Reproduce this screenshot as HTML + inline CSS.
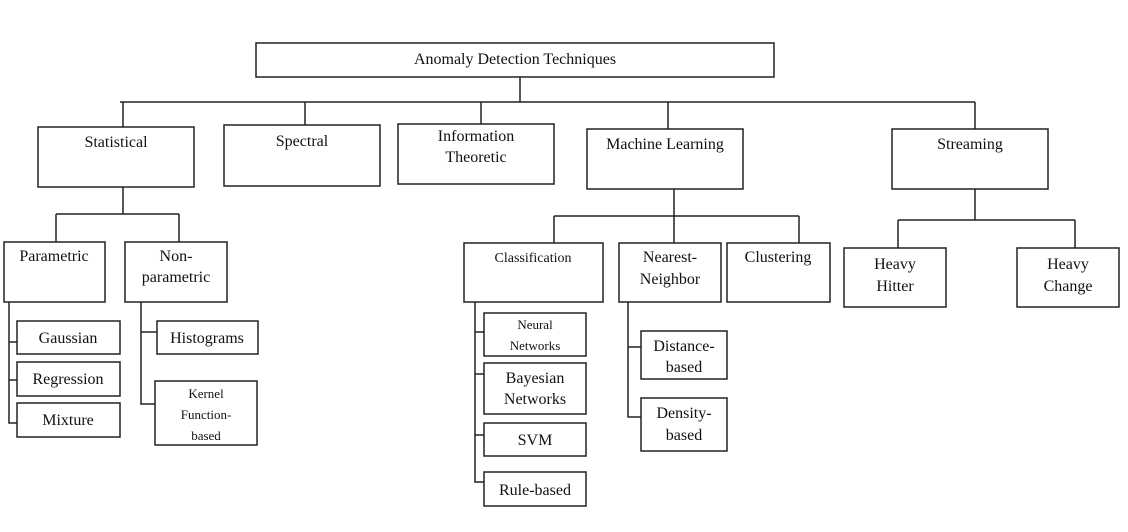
<!DOCTYPE html>
<html><head><meta charset="utf-8"><style>
html,body{margin:0;padding:0;background:#fff;}
svg{display:block}
text{font-family:"Liberation Serif",serif;fill:#111;text-anchor:middle}
</style></head><body>
<svg width="1128" height="532" viewBox="0 0 1128 532">
<g fill="none" stroke="#222" stroke-width="1.5">
<rect x="256" y="43" width="518" height="34"/>
<path d="M520 77V102M120 102H975M123 102V127M305 102V125M481 102V124M668 102V129M975 102V129"/>
<rect x="38" y="127" width="156" height="60"/>
<rect x="224" y="125" width="156" height="61"/>
<rect x="398" y="124" width="156" height="60"/>
<rect x="587" y="129" width="156" height="60"/>
<rect x="892" y="129" width="156" height="60"/>
<path d="M123 187V214M56 214H179M56 214V242M179 214V242"/>
<rect x="4" y="242" width="101" height="60"/>
<rect x="125" y="242" width="102" height="60"/>
<path d="M9 302V423H17M9 342H17M9 380H17"/>
<rect x="17" y="321" width="103" height="33"/>
<rect x="17" y="362" width="103" height="34"/>
<rect x="17" y="403" width="103" height="34"/>
<path d="M141 302V404H155M141 332H157"/>
<rect x="157" y="321" width="101" height="33"/>
<rect x="155" y="381" width="102" height="64"/>
<path d="M674 189V216M554 216H799M554 216V243M674 216V243M799 216V243"/>
<rect x="464" y="243" width="139" height="59"/>
<rect x="619" y="243" width="102" height="59"/>
<rect x="727" y="243" width="103" height="59"/>
<path d="M475 302V482H484M475 332H484M475 374H484M475 435H484"/>
<rect x="484" y="313" width="102" height="43"/>
<rect x="484" y="363" width="102" height="51"/>
<rect x="484" y="423" width="102" height="33"/>
<rect x="484" y="472" width="102" height="34"/>
<path d="M628 302V417H641M628 347H641"/>
<rect x="641" y="331" width="86" height="48"/>
<rect x="641" y="398" width="86" height="53"/>
<path d="M975 189V220M898 220H1075M898 220V248M1075 220V248"/>
<rect x="844" y="248" width="102" height="59"/>
<rect x="1017" y="248" width="102" height="59"/>
</g>
<g font-size="16">
<text x="515" y="64">Anomaly Detection Techniques</text>
<text x="116" y="147">Statistical</text>
<text x="302" y="146">Spectral</text>
<text x="476" y="141">Information</text>
<text x="476" y="162">Theoretic</text>
<text x="665" y="149">Machine Learning</text>
<text x="970" y="149">Streaming</text>
<text x="54" y="261">Parametric</text>
<text x="176" y="261">Non-</text>
<text x="176" y="282">parametric</text>
<text x="68" y="343">Gaussian</text>
<text x="68" y="384">Regression</text>
<text x="68" y="425">Mixture</text>
<text x="207" y="343">Histograms</text>
<text x="533" y="262" font-size="14">Classification</text>
<text x="670" y="262">Nearest-</text>
<text x="670" y="284">Neighbor</text>
<text x="778" y="262">Clustering</text>
<text x="895" y="269">Heavy</text>
<text x="895" y="291">Hitter</text>
<text x="1068" y="269">Heavy</text>
<text x="1068" y="291">Change</text>
<text x="535" y="383">Bayesian</text>
<text x="535" y="404">Networks</text>
<text x="535" y="445">SVM</text>
<text x="535" y="495">Rule-based</text>
<text x="684" y="351">Distance-</text>
<text x="684" y="372">based</text>
<text x="684" y="418">Density-</text>
<text x="684" y="440">based</text>
</g>
<g font-size="13">
<text x="206" y="398">Kernel</text>
<text x="206" y="419">Function-</text>
<text x="206" y="440">based</text>
<text x="535" y="329">Neural</text>
<text x="535" y="350">Networks</text>
</g>
</svg>
</body></html>
